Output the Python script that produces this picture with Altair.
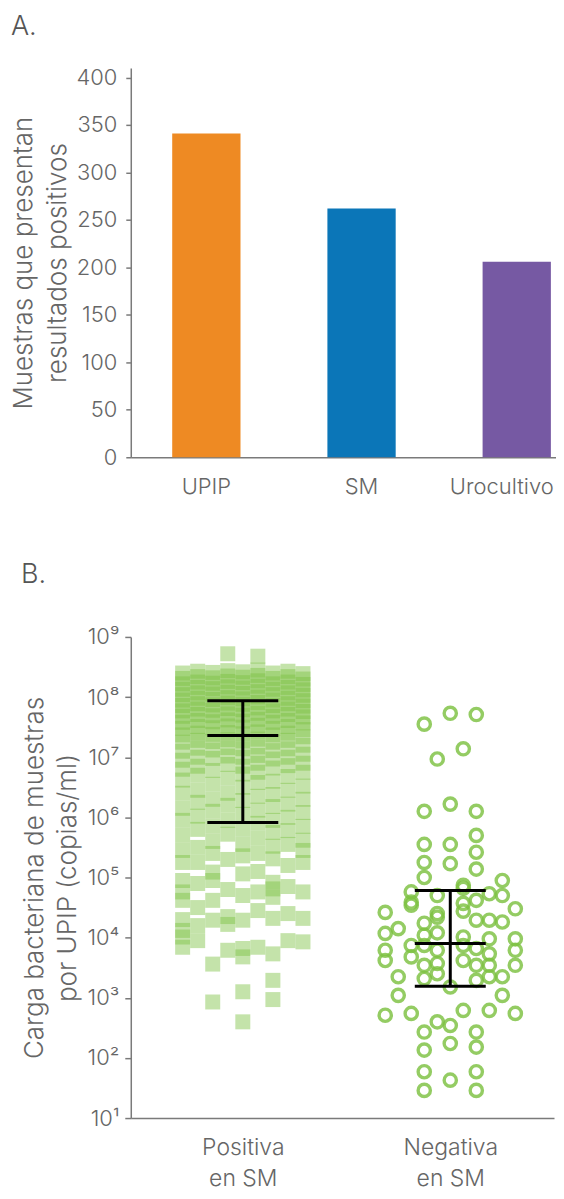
import altair as alt
import pandas as pd

FONT = "Inter"
TEXT_COLOR = "#666666"
AXIS_COLOR = "#7a7a7a"

# ---------------- Panel A data ----------------
BAR_CATEGORIES = ["UPIP", "SM", "Urocultivo"]
BAR_VALUES = [341, 262, 206]
BAR_COLORS = ["#EE8A23", "#0B76B8", "#7659A3"]
BAR_TICKS = [0, 50, 100, 150, 200, 250, 300, 350, 400]
BAR_TITLE = ["Muestras que presentan", "resultados positivos"]

# ---------------- Panel B data ----------------
GROUPS = ["Positiva", "Negativa"]
GROUP_LABELS = [["Positiva", "en SM"], ["Negativa", "en SM"]]
B_TITLE = ["Carga bacteriana de muestras", "por UPIP (copias/ml)"]
LOG_TICKS = [1e1, 1e2, 1e3, 1e4, 1e5, 1e6, 1e7, 1e8, 1e9]

# Positive-in-SM samples: log10(copies/ml), one list per swarm column (left to right)
POS_LANE_M4 = [8.40, 8.31, 8.22, 8.13, 8.04, 7.95, 7.86, 7.77, 7.68, 7.58, 7.48, 7.37, 7.25, 7.10,
               6.95, 6.80, 6.62, 6.40, 6.15, 5.95, 5.70, 5.45, 5.25, 4.95, 4.76, 4.62, 4.30, 4.12,
               4.01, 3.84]
POS_LANE_M3 = [8.43, 8.34, 8.25, 8.16, 8.07, 7.98, 7.89, 7.80, 7.71, 7.61, 7.51, 7.40, 7.28, 7.15,
               7.00, 6.85, 6.70, 6.45, 6.25, 6.02, 5.80, 5.50, 5.25, 4.90, 4.50, 4.20, 3.95]
POS_LANE_M2 = [8.41, 8.32, 8.23, 8.14, 8.05, 7.96, 7.87, 7.78, 7.69, 7.59, 7.49, 7.38, 7.26, 7.12,
               6.98, 6.78, 6.55, 6.30, 6.10, 5.85, 5.60, 5.40, 5.09, 4.95, 4.62, 4.29, 3.56, 2.93]
POS_LANE_M1 = [8.72, 8.44, 8.35, 8.26, 8.17, 8.08, 7.99, 7.90, 7.81, 7.72, 7.62, 7.52, 7.41, 7.29,
               7.16, 7.02, 6.88, 6.65, 6.40, 6.20, 5.95, 5.72, 5.30, 4.80, 4.35, 4.22, 3.79]
POS_LANE_0 = [8.42, 8.33, 8.24, 8.15, 8.06, 7.97, 7.88, 7.79, 7.70, 7.60, 7.50, 7.39, 7.27, 7.14,
              7.00, 6.85, 6.72, 6.50, 6.28, 6.05, 5.80, 5.55, 5.36, 5.06, 4.70, 4.29, 3.82, 3.68,
              3.10, 2.60]
POS_LANE_P1 = [8.68, 8.45, 8.36, 8.27, 8.18, 8.09, 8.00, 7.91, 7.82, 7.73, 7.63, 7.53, 7.42, 7.30,
               7.17, 7.03, 6.90, 6.75, 6.58, 6.35, 6.12, 5.90, 5.65, 5.40, 5.10, 4.76, 4.45, 3.84]
POS_LANE_P2 = [8.40, 8.31, 8.22, 8.13, 8.04, 7.95, 7.86, 7.77, 7.68, 7.58, 7.48, 7.37, 7.25, 7.11,
               6.97, 6.82, 6.60, 6.38, 6.18, 5.95, 5.75, 5.52, 5.31, 4.92, 4.81, 4.67, 4.32, 3.73,
               3.29, 2.97]
POS_LANE_P3 = [8.43, 8.34, 8.25, 8.16, 8.07, 7.98, 7.89, 7.80, 7.71, 7.61, 7.51, 7.40, 7.28, 7.14,
               7.00, 6.86, 6.68, 6.45, 6.22, 6.00, 5.78, 5.55, 5.20, 4.85, 4.40, 3.95]
POS_LANE_P4 = [8.39, 8.30, 8.21, 8.12, 8.03, 7.94, 7.85, 7.76, 7.67, 7.57, 7.46, 7.34, 7.20, 7.05,
               6.90, 6.75, 6.52, 6.30, 6.08, 5.85, 5.62, 5.45, 5.25, 4.76, 4.32, 3.93]
POS_LANES = [POS_LANE_M4, POS_LANE_M3, POS_LANE_M2, POS_LANE_M1, POS_LANE_0,
             POS_LANE_P1, POS_LANE_P2, POS_LANE_P3, POS_LANE_P4]

# Negative-in-SM samples: swarm column and log10(copies/ml)
NEG_LANE = [-2, 0, 2, -1, 1, -2, 0, 2, -2, 0, 2, 2, -2, 0, 2, -2, 4,
            -3, -1, 1, 3, -5, -3, -1, 1, 5, -4, -5, -2, -1, 2, 3, 4,
            -5, -3, -2, -1, 1, 3, 5, -5, -3, -2, -1, 1, 3, 5,
            -4, -2, 0, 2, 4, 5, -4, 4, -5, -3, 1, 3, 5,
            -2, -1, 0, 2, -2, 0, 2, -2, 2, 0, -2, 2,
            -3, 1, 2, 4, 1, -1, -2, 1, 2, 2, 3, -1, 3]
NEG_LOG10 = [7.55, 7.73, 7.71, 6.97, 7.14, 6.10, 6.22, 6.10, 5.55, 5.55, 5.70, 5.42, 5.25, 5.23, 5.14, 5.00, 4.95,
             4.76, 4.70, 4.82, 4.73, 4.42, 4.54, 4.40, 4.57, 4.48, 4.15, 4.07, 4.24, 4.34, 4.29, 4.29, 4.26,
             3.79, 3.87, 4.04, 3.79, 4.01, 3.98, 3.98, 3.62, 3.68, 3.54, 3.57, 3.62, 3.73, 3.79,
             3.35, 3.32, 3.18, 3.29, 3.35, 3.54, 3.04, 3.04, 2.71, 2.74, 2.79, 2.79, 2.74,
             2.43, 2.60, 2.54, 2.43, 2.13, 2.24, 2.18, 1.77, 1.77, 1.63, 1.46, 1.46,
             4.59, 4.87, 4.62, 4.70, 4.44, 4.08, 3.87, 3.87, 3.82, 3.54, 3.54, 3.40, 3.35]

# Error bars (low, median, high) per group
ERR_LOW = [8.2e5, 1.55e3]
ERR_MED = [2.3e7, 8.0e3]
ERR_HIGH = [8.7e7, 6.1e4]

# ---------------- tables ----------------
bar_df = pd.DataFrame({"cat": BAR_CATEGORIES, "n": BAR_VALUES})

pos_rows = []
for lane, vals in zip(range(-4, 5), POS_LANES):
    for v in vals:
        pos_rows.append({"group": GROUPS[0], "lane": lane, "lg": v})
pos_df = pd.DataFrame(pos_rows)
neg_df = pd.DataFrame({"group": GROUPS[1], "lane": NEG_LANE, "lg": NEG_LOG10})

err_df = pd.DataFrame({"group": GROUPS, "lo": ERR_LOW, "med": ERR_MED, "hi": ERR_HIGH})
cap_rows = []
for g, lo, md, hi in zip(GROUPS, ERR_LOW, ERR_MED, ERR_HIGH):
    for v in (lo, md, hi):
        cap_rows.append({"group": g, "v": v})
cap_df = pd.DataFrame(cap_rows)

CENTER_EXPR = f"datum.group === '{GROUPS[0]}' ? 1 : 2"
LANE_STEP_EXPR = f"datum.group === '{GROUPS[0]}' ? 0.0725 : 0.0627"
CAP_HALF = 0.171

# ---------------- Panel A ----------------
chartA = alt.Chart(
    bar_df,
    title=alt.TitleParams("A.", anchor="start", frame="bounds", fontSize=27,
                          fontWeight=300, color="#555555", font=FONT, offset=26),
).mark_bar().encode(
    x=alt.X("cat:N", sort=BAR_CATEGORIES,
            scale=alt.Scale(paddingInner=0.56, paddingOuter=0.15, align=0.89),
            axis=alt.Axis(title=None, ticks=False, labelAngle=0, labelPadding=19,
                          labelOffset=alt.expr("datum.value === 'Urocultivo' ? -15 : 0"))),
    y=alt.Y("n:Q", scale=alt.Scale(domain=[0, 410], nice=False),
            axis=alt.Axis(values=BAR_TICKS, title=BAR_TITLE, grid=False, tickSize=5,
                          labelPadding=9, titlePadding=5)),
    color=alt.Color("cat:N", scale=alt.Scale(domain=BAR_CATEGORIES, range=BAR_COLORS), legend=None),
).properties(width=426, height=390)

# ---------------- Panel B ----------------
label_expr_x = (f"datum.value == 1 ? ['{GROUP_LABELS[0][0]}', '{GROUP_LABELS[0][1]}'] : "
                f"['{GROUP_LABELS[1][0]}', '{GROUP_LABELS[1][1]}']")
sup = "['\u2070','\u00b9','\u00b2','\u00b3','\u2074','\u2075','\u2076','\u2077','\u2078','\u2079']"
label_expr_y = f"'10' + {sup}[round(log(datum.value)/LN10)]"

x_scale = alt.Scale(domain=[0.46, 2.5], nice=False, zero=False)
x_axis = alt.Axis(values=[1, 2], labelExpr=label_expr_x, title=None, ticks=False, grid=False,
                  labelPadding=19, labelLineHeight=31, labelFontSize=23)
y_scale = alt.Scale(type="log", domain=[10, 1e9], nice=False)
y_axis = alt.Axis(values=LOG_TICKS, labelExpr=label_expr_y, title=B_TITLE, grid=False,
                  tickSize=6, labelPadding=6, titlePadding=6)


def xenc(field):
    return alt.X(field, type="quantitative", scale=x_scale, axis=x_axis)


def yenc(field):
    return alt.Y(field, type="quantitative", scale=y_scale, axis=y_axis)


squares = alt.Chart(pos_df).transform_calculate(
    val="pow(10, datum.lg)",
    xpos=f"({CENTER_EXPR}) + datum.lane * ({LANE_STEP_EXPR})",
).mark_square(size=225, color="#7DC242", opacity=0.45).encode(
    x=xenc("xpos"), y=yenc("val"))

circles = alt.Chart(neg_df).transform_calculate(
    val="pow(10, datum.lg)",
    xpos=f"({CENTER_EXPR}) + datum.lane * ({LANE_STEP_EXPR})",
).mark_point(shape="circle", filled=False, size=150, strokeWidth=3.4,
             color="#7DC242", opacity=0.82).encode(
    x=xenc("xpos"), y=yenc("val"))

vbar = alt.Chart(err_df).transform_calculate(
    xc=CENTER_EXPR,
).mark_rule(color="black", strokeWidth=3).encode(
    x=xenc("xc"), y=yenc("lo"), y2="hi")

caps = alt.Chart(cap_df).transform_calculate(
    xl=f"({CENTER_EXPR}) - {CAP_HALF}",
    xr=f"({CENTER_EXPR}) + {CAP_HALF}",
).mark_rule(color="black", strokeWidth=3).encode(
    x=xenc("xl"), x2="xr", y=yenc("v"))

chartB = alt.layer(squares, circles, vbar, caps).properties(
    width=424, height=482,
    title=alt.TitleParams("B.", anchor="start", frame="bounds", fontSize=27,
                          fontWeight=300, color="#555555", font=FONT, offset=37),
)

chart = alt.vconcat(chartA, chartB, spacing=64).properties(
    padding={"left": 2, "top": 3, "right": 0, "bottom": 0}
).configure_view(stroke=None).configure_axis(
    labelFont=FONT, titleFont=FONT, labelFontSize=22, titleFontSize=26,
    labelFontWeight=300, titleFontWeight=300, labelColor=TEXT_COLOR, titleColor=TEXT_COLOR,
    domainColor=AXIS_COLOR, tickColor=AXIS_COLOR, domainWidth=1.5, tickWidth=1.5,
    titleLineHeight=34,
)

chart.save("out.html", embed_options={"renderer": "svg", "actions": False})
